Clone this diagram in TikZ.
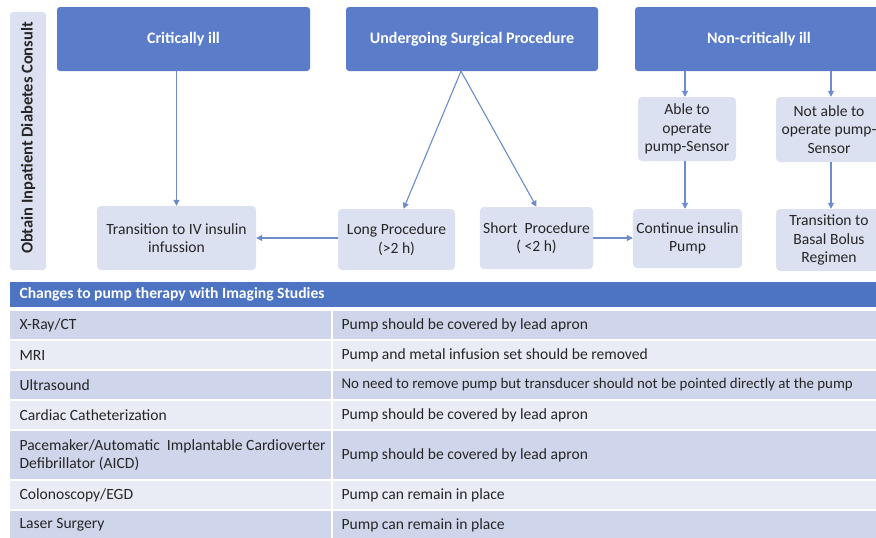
\documentclass[tikz,border=0pt]{standalone}
\usepackage{fontspec}
\setmainfont{Carlito}
\usetikzlibrary{arrows.meta}

\definecolor{topblue}{HTML}{5B7DC9}
\definecolor{headblue}{HTML}{4D74C2}
\definecolor{paleblue}{HTML}{DCE1F1}
\definecolor{rowdark}{HTML}{CFD5EA}
\definecolor{rowlight}{HTML}{E9EBF5}
\definecolor{arrowblue}{HTML}{6C8CCB}
\definecolor{inktext}{HTML}{262626}

\tikzset{
  topbox/.style={fill=topblue, rounded corners=3pt, text=white, font=\fontsize{16}{19}\selectfont\bfseries},
  subbox/.style={fill=paleblue, rounded corners=4pt, text=inktext, align=center, font=\fontsize{15.6}{18.5}\selectfont},
  arr/.style={draw=arrowblue, line width=1.1pt, -{Triangle[width=6pt,length=6pt]}},
  cellodd/.style={fill=rowdark},
  celleven/.style={fill=rowlight},
  celltext/.style={anchor=west, text=inktext, align=left, font=\fontsize{15.6}{18}\selectfont}
}

\begin{document}
\begin{tikzpicture}[x=1pt,y=-1pt]
\useasboundingbox[fill=white] (0,0) rectangle (876,538);
\clip (0,0) rectangle (876,538);

% side label
\node[subbox, minimum width=36pt, minimum height=258pt, rounded corners=3pt] (consult) at (28,141) {};
\node[rotate=90, text=inktext, font=\fontsize{16.5}{19}\selectfont\bfseries] (consulttext) at (28,138) {Obtain Inpatient Diabetes Consult};

% top row
\node[topbox, minimum width=253pt, minimum height=64pt] (crit) at (183.5,39) {Critically ill};
\node[topbox, minimum width=252pt, minimum height=64pt] (surg) at (472,39) {Undergoing Surgical Procedure};
\node[topbox, minimum width=248pt, minimum height=64pt] (noncrit) at (759,39) {Non-critically ill};

% middle row
\node[subbox, minimum width=98pt, minimum height=64pt] (able) at (687,129) {Able to\\operate\\pump-Sensor};
\node[subbox, minimum width=106pt, minimum height=65pt] (notable) at (829,129.5) {Not able to\\operate pump-\\Sensor};

% bottom row
\node[subbox, minimum width=159pt, minimum height=64pt] (ivins) at (176.5,238) {Transition to IV insulin\\infussion};
\node[subbox, minimum width=117pt, minimum height=61pt] (long) at (396.5,239.5) {Long Procedure\\(>2 h)};
\node[subbox, minimum width=113pt, minimum height=62pt] (short) at (536.5,238) {Short\ \ Procedure\\( <2 h)};
\node[subbox, minimum width=109pt, minimum height=59pt] (cont) at (687.5,238.5) {Continue insulin\\Pump};
\node[subbox, minimum width=106pt, minimum height=62pt] (basal) at (829,240) {Transition to\\Basal Bolus\\Regimen};

% connectors
\coordinate (apex) at ([xshift=-11pt]surg.south);
\draw[arr] (crit.south -| ivins.north) -- (ivins.north);
\draw[arr] (apex) -- ([xshift=7pt]long.north);
\draw[arr] (apex) -- (short.north);
\draw[arr] (long.west |- ivins.east) -- (ivins.east);
\draw[arr] (short.east) -- (short.east -| cont.west);
\draw[arr] ([xshift=-2pt]noncrit.south -| able.north) -- ([xshift=-2pt]able.north);
\draw[arr] ([xshift=2pt]noncrit.south -| notable.north) -- ([xshift=2pt]notable.north);
\draw[arr] ([xshift=-2pt]able.south) -- ([xshift=-2pt]able.south |- cont.north);
\draw[arr] ([xshift=2pt]notable.south) -- ([xshift=2pt]notable.south |- basal.north);

% table
\fill[headblue] (10,282) rectangle (876,307);
\node[celltext, text=white, font=\fontsize{15.6}{18}\selectfont\bfseries] (thead) at (16,294.5) {Changes to pump therapy with Imaging Studies};

\fill[cellodd] (10,311) rectangle (331,339);
\fill[cellodd] (333,311) rectangle (876,339);
\node[celltext] (xray) at (16,325) {X-Ray/CT};
\node[celltext] (xrayrule) at (338,325) {Pump should be covered by lead apron};

\fill[celleven] (10,341) rectangle (331,369);
\fill[celleven] (333,341) rectangle (876,369);
\node[celltext] (mri) at (16,355) {MRI};
\node[celltext] (mrirule) at (338,355) {Pump and metal infusion set should be removed};

\fill[cellodd] (10,371) rectangle (331,399);
\fill[cellodd] (333,371) rectangle (876,399);
\node[celltext] (us) at (16,385) {Ultrasound};
\node[celltext, font=\fontsize{14.9}{18}\selectfont] (usrule) at (338,385) {No need to remove pump but transducer should not be pointed directly at the pump};

\fill[celleven] (10,401) rectangle (331,429);
\fill[celleven] (333,401) rectangle (876,429);
\node[celltext] (cath) at (16,415) {Cardiac Catheterization};
\node[celltext] (cathrule) at (338,415) {Pump should be covered by lead apron};

\fill[cellodd] (10,431) rectangle (331,479);
\fill[cellodd] (333,431) rectangle (876,479);
\node[celltext] (aicd) at (16,455) {Pacemaker/Automatic\ \ Implantable Cardioverter\\Defibrillator (AICD)};
\node[celltext] (aicdrule) at (338,455) {Pump should be covered by lead apron};

\fill[celleven] (10,481) rectangle (331,509);
\fill[celleven] (333,481) rectangle (876,509);
\node[celltext] (egd) at (16,495) {Colonoscopy/EGD};
\node[celltext] (egdrule) at (338,495) {Pump can remain in place};

\fill[cellodd] (10,511) rectangle (331,540);
\fill[cellodd] (333,511) rectangle (876,540);
\node[celltext] (laser) at (16,525) {Laser Surgery};
\node[celltext] (laserrule) at (338,525) {Pump can remain in place};
\end{tikzpicture}
\end{document}
